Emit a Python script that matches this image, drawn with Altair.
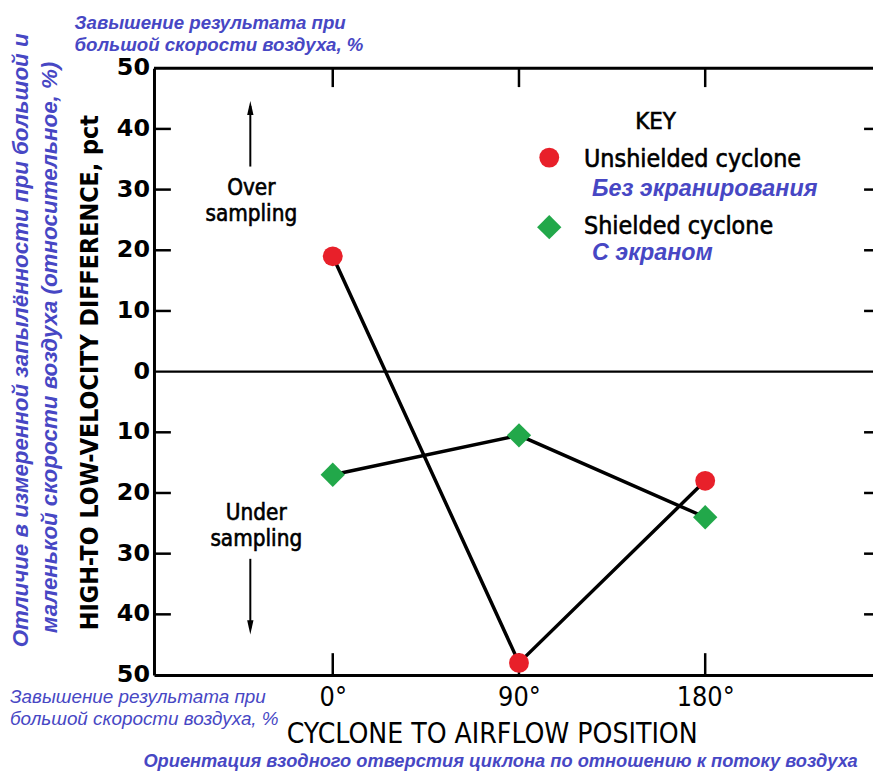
import altair as alt
import pandas as pd

# ---- data ----
positions = [0, 90, 180]
position_labels = ["0°", "90°", "180°"]
unshielded = [19, -48, -18]
shielded = [-17, -10.5, -24]
series_names = ["Unshielded cyclone", "Shielded cyclone"]
series_ru = ["Без экранирования", "С экраном"]
series_colors = ["#E8202A", "#22A84A"]
series_shapes = ["circle", "diamond"]
series_sizes = [400, 600]
y_ticks = [-50, -40, -30, -20, -10, 0, 10, 20, 30, 40, 50]
inner_y_ticks = [-40, -30, -20, -10, 10, 20, 30, 40]

df = pd.DataFrame({
    "pos": positions * 2,
    "val": unshielded + shielded,
    "series": [series_names[0]] * 3 + [series_names[1]] * 3,
})

W, H = 724, 611
EN = "Liberation Sans Narrow, DejaVu Sans Condensed, DejaVu Sans, sans-serif"
RU = "Liberation Sans, Arial, sans-serif"
RU_N = "Liberation Sans Narrow, Liberation Sans, sans-serif"
BLUE = "#4747C4"

xscale = alt.Scale(domain=[-86.4, 261.1], nice=False, zero=False)
yscale = alt.Scale(domain=[-50, 50], nice=False, zero=False)
one = alt.Data(values=[{}])

label_expr = "datum.value + '°'"
xaxis = alt.Axis(
    values=positions, labelExpr=label_expr, title="CYCLONE TO AIRFLOW POSITION",
    grid=False, ticks=False, domain=True, domainColor="black", domainWidth=3,
    labelFont=EN, labelFontSize=27, labelColor="black", labelPadding=10, labelFlush=False,
    titleFont=EN, titleFontSize=28.3, titleFontWeight="normal", titleColor="black",
    titleX=340, titleY=60, titleAnchor="middle", titleAlign="center", titleBaseline="middle",
)
yaxis = alt.Axis(
    values=y_ticks, labels=False, title="HIGH-TO LOW-VELOCITY DIFFERENCE, pct",
    grid=False, ticks=False, domain=True, domainColor="black", domainWidth=3,
    titleFont=EN, titleFontSize=25, titleFontWeight="bold", titleColor="black",
    titleX=-65, titleY=306, titleAngle=270, titleAlign="center", titleBaseline="middle",
)


def txt(s, x, y, font=EN, size=20, weight="normal", style="normal", color="black",
        align="left", angle=0, stroke=None):
    kw = dict(font=font, fontSize=size, fontWeight=weight, fontStyle=style, color=color,
              align=align, baseline="middle", angle=angle)
    if stroke:
        kw.update(stroke=color, strokeWidth=stroke)
    return alt.Chart(one).mark_text(**kw).encode(
        x=alt.value(x), y=alt.value(y), text=alt.value(s))


base = alt.Chart(df)

lines = base.mark_line(color="black", strokeWidth=3.5).encode(
    x=alt.X("pos:Q", scale=xscale, axis=xaxis),
    y=alt.Y("val:Q", scale=yscale, axis=yaxis),
    detail="series:N",
)

points = base.mark_point(filled=True, opacity=1).encode(
    x=alt.X("pos:Q", scale=xscale, axis=xaxis),
    y=alt.Y("val:Q", scale=yscale, axis=yaxis),
    color=alt.Color("series:N", scale=alt.Scale(domain=series_names, range=series_colors), legend=None),
    shape=alt.Shape("series:N", scale=alt.Scale(domain=series_names, range=series_shapes), legend=None),
    size=alt.Size("series:N", scale=alt.Scale(domain=series_names, range=series_sizes), legend=None),
)

ydf = pd.DataFrame({"val": inner_y_ticks})
ylab = pd.DataFrame({"val": y_ticks})
xdf = pd.DataFrame({"pos": positions})
zdf = pd.DataFrame({"val": [0]})

y_labels = alt.Chart(ylab).transform_calculate(lab="abs(datum.val)").mark_text(
    font="DejaVu Sans", fontSize=24, fontWeight="bold", color="black",
    align="right", baseline="middle",
).encode(y=alt.Y("val:Q", scale=yscale, axis=yaxis), x=alt.value(-4), text="lab:N")

zero_line = alt.Chart(zdf).mark_rule(color="black", strokeWidth=2.5).encode(
    y=alt.Y("val:Q", scale=yscale, axis=yaxis), x=alt.value(0), x2=alt.value(W))
top_line = alt.Chart(one).mark_rule(color="black", strokeWidth=3).encode(
    y=alt.value(0), x=alt.value(0), x2=alt.value(W))

left_ticks = alt.Chart(ydf).mark_rule(color="black", strokeWidth=2.5).encode(
    y=alt.Y("val:Q", scale=yscale, axis=yaxis), x=alt.value(0), x2=alt.value(17))
right_ticks = alt.Chart(ydf).mark_rule(color="black", strokeWidth=2.5).encode(
    y=alt.Y("val:Q", scale=yscale, axis=yaxis), x=alt.value(W - 9), x2=alt.value(W))
bottom_ticks = alt.Chart(xdf).mark_rule(color="black", strokeWidth=2.5).encode(
    x=alt.X("pos:Q", scale=xscale, axis=xaxis), y=alt.value(H - 22), y2=alt.value(H))
top_ticks = alt.Chart(xdf).mark_rule(color="black", strokeWidth=2.5).encode(
    x=alt.X("pos:Q", scale=xscale, axis=xaxis), y=alt.value(0), y2=alt.value(19))

# arrows
up_shaft = alt.Chart(one).mark_rule(color="black", strokeWidth=2).encode(
    x=alt.value(97), y=alt.value(38), y2=alt.value(99))
up_head = alt.Chart(one).mark_point(
    shape="M0,-1L0.45,1L-0.45,1Z", filled=True, opacity=1, color="black", size=200
).encode(x=alt.value(97), y=alt.value(40))
dn_shaft = alt.Chart(one).mark_rule(color="black", strokeWidth=2).encode(
    x=alt.value(97), y=alt.value(494), y2=alt.value(564))
dn_head = alt.Chart(one).mark_point(
    shape="M0,1L0.45,-1L-0.45,-1Z", filled=True, opacity=1, color="black", size=200
).encode(x=alt.value(97), y=alt.value(563))

# legend (key)
leg_circle = alt.Chart(one).mark_point(shape=series_shapes[0], filled=True, opacity=1,
                                       color=series_colors[0], size=series_sizes[0]).encode(
    x=alt.value(398), y=alt.value(90))
leg_diamond = alt.Chart(one).mark_point(shape=series_shapes[1], filled=True, opacity=1,
                                        color=series_colors[1], size=series_sizes[1]).encode(
    x=alt.value(398), y=alt.value(160))

texts = [
    txt("KEY", 505, 54, size=24, align="center", stroke=0.6),
    txt(series_names[0], 433, 91, size=25, stroke=0.6),
    txt(series_ru[0], 441, 122, font=RU, size=23.5, weight="bold", style="italic", color=BLUE),
    txt(series_names[1], 433, 159, size=25, stroke=0.6),
    txt(series_ru[1], 441, 186, font=RU, size=23.5, weight="bold", style="italic", color=BLUE),
    txt("Over", 98, 121, size=22.5, align="center", stroke=0.6),
    txt("sampling", 98, 147, size=22.5, align="center", stroke=0.6),
    txt("Under", 103, 448, size=22.5, align="center", stroke=0.6),
    txt("sampling", 103, 474, size=22.5, align="center", stroke=0.6),
    txt("Завышение результата при", -80, -46, font=RU, size=18.8, weight="bold", style="italic", color=BLUE),
    txt("большой скорости воздуха, %", -80, -23, font=RU, size=18.8, weight="bold", style="italic", color=BLUE),
    txt("Отличие в измеренной запылённости при большой и", -134, 274, font=RU, size=22.5,
        weight="bold", style="italic", color=BLUE, align="center", angle=270),
    txt("маленькой скорости воздуха (относительное, %)", -105, 281, font=RU, size=22.5,
        weight="bold", style="italic", color=BLUE, align="center", angle=270),
    txt("Завышение результата при", -145, 633, font=RU_N, size=19, style="italic", color=BLUE),
    txt("большой скорости воздуха, %", -145, 655, font=RU_N, size=19, style="italic", color=BLUE),
    txt("Ориентация взодного отверстия циклона по отношению к потоку воздуха", 349, 698,
        font=RU, size=18.4, weight="bold", style="italic", color=BLUE, align="center"),
]

chart = alt.layer(
    lines, zero_line, top_line, left_ticks, right_ticks, bottom_ticks, top_ticks, y_labels,
    up_shaft, up_head, dn_shaft, dn_head, points, leg_circle, leg_diamond, *texts,
).properties(
    width=W, height=H,
    autosize=alt.AutoSizeParams(type="none"),
    padding={"left": 147, "top": 58, "right": 0, "bottom": 95},
).configure_view(stroke=None)

chart.save("out.html", embed_options={"renderer": "svg", "actions": False})
